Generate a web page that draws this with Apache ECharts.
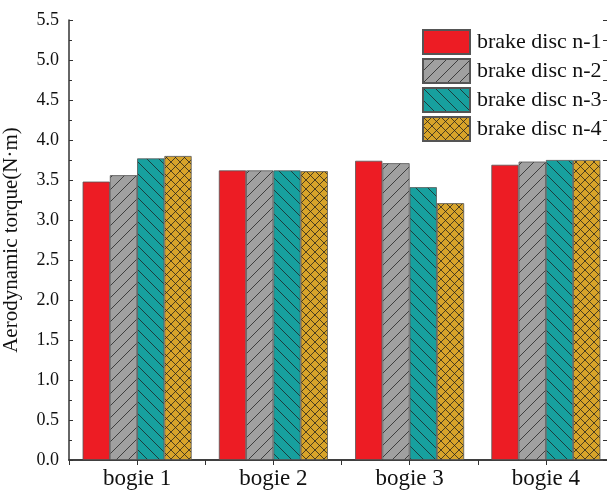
<!DOCTYPE html>
<html>
<head>
<meta charset="utf-8">
<script src="https://cdn.jsdelivr.net/npm/echarts@6/dist/echarts.min.js"></script>
<style>
  html, body { margin: 0; padding: 0; background: #fff; }
  #chart { width: 607px; height: 493px; }
</style>
</head>
<body>
<div id="chart"></div>
<script>
const categories = ["bogie 1", "bogie 2", "bogie 3", "bogie 4"];
const seriesNames = ["brake disc n-1", "brake disc n-2", "brake disc n-3", "brake disc n-4"];
const disc1 = [3.48, 3.62, 3.74, 3.69];
const disc2 = [3.56, 3.62, 3.71, 3.73];
const disc3 = [3.77, 3.62, 3.41, 3.75];
const disc4 = [3.80, 3.61, 3.21, 3.75];
const yTicks = ["0.0", "0.5", "1.0", "1.5", "2.0", "2.5", "3.0", "3.5", "4.0", "4.5", "5.0", "5.5"];

const FONT = "'Liberation Serif', 'Times New Roman', serif";
const AXIS = "#333";

// hatch fill patterns like the Origin plot
function hatch(bg, kind, size) {
  const c = document.createElement("canvas");
  c.width = c.height = size;
  const g = c.getContext("2d");
  g.fillStyle = bg;
  g.fillRect(0, 0, size, size);
  g.strokeStyle = "rgba(30,30,30,0.75)";
  g.lineWidth = 1;
  const line = (x1, y1, x2, y2) => {
    g.beginPath();
    g.moveTo(x1, y1);
    g.lineTo(x2, y2);
    g.stroke();
  };
  if (kind === "/" || kind === "x") {
    line(-1, size + 1, size + 1, -1);
    line(-1, 1, 1, -1);
    line(size - 1, size + 1, size + 1, size - 1);
  }
  if (kind === "\\" || kind === "x") {
    line(-1, -1, size + 1, size + 1);
    line(size - 1, -1, size + 1, 1);
    line(-1, size - 1, 1, size + 1);
  }
  return { image: c, repeat: "repeat" };
}

const fills = [
  "#ED1C24",
  hatch("#A0A0A0", "/", 12),
  hatch("#17A09E", "\\", 12),
  hatch("#D8A42A", "x", 9),
];
const values = [disc1, disc2, disc3, disc4];

const chart = echarts.init(document.getElementById("chart"));

const option = {
  animation: false,
  backgroundColor: "#fff",
  grid: { left: 69, top: 20, width: 545, height: 440, outerBoundsMode: "none", containLabel: false },
  legend: {
    orient: "vertical",
    left: 422,
    top: 29,
    padding: 0,
    itemWidth: 47,
    itemHeight: 24,
    itemGap: 3,
    icon: "rect",
    data: seriesNames,
    textStyle: { fontFamily: FONT, fontSize: 22, color: "#111", padding: [0, 0, 0, 2] },
  },
  xAxis: [
    {
      type: "category",
      data: categories,
      axisLine: { lineStyle: { color: AXIS, width: 1.5 } },
      axisTick: { inside: true, length: 5, lineStyle: { color: AXIS } },
      axisLabel: { fontFamily: FONT, fontSize: 23, color: "#111", margin: 7 },
    },
    {
      type: "value",
      position: "top",
      min: 0,
      max: 8,
      interval: 1,
      axisLine: { show: true, lineStyle: { color: AXIS, width: 1.5 } },
      axisTick: { show: true, inside: true, length: 5, lineStyle: { color: AXIS } },
      axisLabel: { show: false },
      splitLine: { show: false },
    },
  ],
  yAxis: [
    {
      type: "value",
      min: 0,
      max: 5.5,
      interval: 0.5,
      name: "Aerodynamic torque(N·m)",
      nameLocation: "middle",
      nameGap: 47,
      nameTextStyle: { fontFamily: FONT, fontSize: 21, color: "#111" },
      axisLine: { show: true, lineStyle: { color: AXIS, width: 1.5 } },
      axisTick: { show: true, inside: true, length: 4, lineStyle: { color: AXIS } },
      minorTick: { show: true, splitNumber: 2, length: 3, lineStyle: { color: AXIS } },
      axisLabel: {
        fontFamily: FONT,
        fontSize: 18,
        color: "#111",
        margin: 10,
        formatter: (v) => yTicks[Math.round(v / 0.5)],
      },
      splitLine: { show: false },
    },
    {
      type: "value",
      position: "right",
      min: 0,
      max: 5.5,
      interval: 0.5,
      axisLine: { show: true, lineStyle: { color: AXIS, width: 1.5 } },
      axisTick: { show: true, inside: true, length: 11, lineStyle: { color: AXIS } },
      minorTick: { show: true, splitNumber: 2, length: 11, lineStyle: { color: AXIS } },
      axisLabel: { show: false },
      splitLine: { show: false },
    },
  ],
  series: seriesNames.map((name, i) => ({
    name: name,
    type: "bar",
    xAxisIndex: 0,
    yAxisIndex: 0,
    data: values[i],
    barGap: "0%",
    barCategoryGap: "20%",
    itemStyle: { color: fills[i], borderColor: "#555", borderWidth: 0.8 },
  })),
};

chart.setOption(option);
</script>
</body>
</html>
